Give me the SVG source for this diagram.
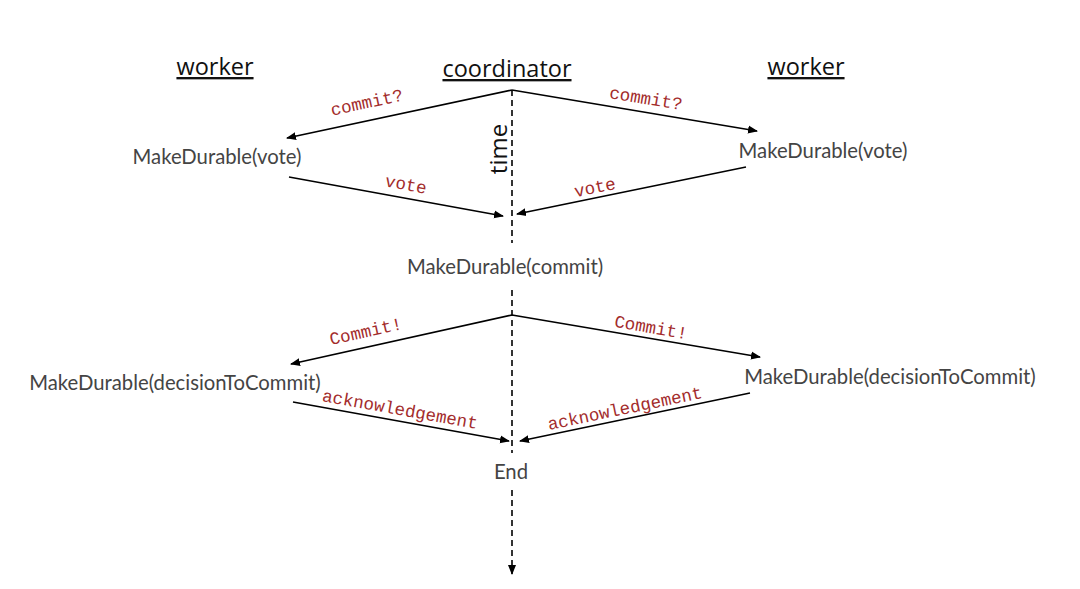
<svg xmlns="http://www.w3.org/2000/svg" width="1080" height="589" viewBox="0 0 1080 589">
<defs>
<marker id="ah" viewBox="0 0 10 10" refX="9" refY="5" markerWidth="10" markerHeight="10" markerUnits="userSpaceOnUse" orient="auto">
<path d="M0,1 L10,5 L0,9 z" fill="#000"/>
</marker>
<style>
.hdr{font-family:"Open Sans","Noto Sans",sans-serif;font-size:23.5px;fill:#111;text-decoration:underline}
.nd{font-family:Lato,"Liberation Sans",sans-serif;font-size:20.3px;fill:#444}
.lbl{font-family:"Liberation Mono",monospace;font-size:17.5px;fill:#a32c2c}
.ln{stroke:#000;stroke-width:1.6;fill:none}
.dash{stroke:#000;stroke-width:1.6;fill:none;stroke-dasharray:6,4}
</style>
</defs>
<rect width="1080" height="589" fill="#fff"/>
<g id="headers">
<text class="hdr" x="215" y="75" text-anchor="middle">worker</text>
<text class="hdr" x="507" y="77" text-anchor="middle">coordinator</text>
<text class="hdr" x="806" y="75" text-anchor="middle">worker</text>
</g>
<g id="timeline">
<path class="dash" d="M512,90 V243"/>
<path class="dash" d="M512,290 V453"/>
<path class="dash" d="M512,490 V574" marker-end="url(#ah)"/>
<text transform="translate(507,149) rotate(-90)" text-anchor="middle" style="font-family:'Open Sans','Noto Sans',sans-serif;font-size:24px;fill:#111">time</text>
</g>
<g id="connectors">
<path class="ln" d="M512,90 L287,138" marker-end="url(#ah)"/>
<path class="ln" d="M512,90 L757,131" marker-end="url(#ah)"/>
<path class="ln" d="M289,177 L503,216" marker-end="url(#ah)"/>
<path class="ln" d="M746,167 L517,214" marker-end="url(#ah)"/>
<path class="ln" d="M512,315 L291,364" marker-end="url(#ah)"/>
<path class="ln" d="M512,315 L760,357" marker-end="url(#ah)"/>
<path class="ln" d="M293,402 L509,441" marker-end="url(#ah)"/>
<path class="ln" d="M750,393 L520,441" marker-end="url(#ah)"/>
<text class="lbl" text-anchor="middle" transform="translate(368,108) rotate(-12)">commit?</text>
<text class="lbl" text-anchor="middle" transform="translate(645,104) rotate(9.5)">commit?</text>
<text class="lbl" text-anchor="middle" transform="translate(405,190) rotate(10.3)">vote</text>
<text class="lbl" text-anchor="middle" transform="translate(596,193) rotate(-11.6)">vote</text>
<text class="lbl" text-anchor="middle" transform="translate(367,337) rotate(-12.5)">Commit!</text>
<text class="lbl" text-anchor="middle" transform="translate(650,333) rotate(9.6)">Commit!</text>
<text class="lbl" text-anchor="middle" transform="translate(399,415) rotate(10.2)">acknowledgement</text>
<text class="lbl" text-anchor="middle" transform="translate(626,414) rotate(-11.8)">acknowledgement</text>
</g>
<g id="n-left-vote"><text class="nd" x="217" y="164" text-anchor="middle">MakeDurable(vote)</text></g>
<g id="n-right-vote"><text class="nd" x="823" y="158" text-anchor="middle">MakeDurable(vote)</text></g>
<g id="n-commit"><text class="nd" x="505" y="274" text-anchor="middle">MakeDurable(commit)</text></g>
<g id="n-left-decision"><text class="nd" x="175" y="390" text-anchor="middle">MakeDurable(decisionToCommit)</text></g>
<g id="n-right-decision"><text class="nd" x="890" y="384" text-anchor="middle">MakeDurable(decisionToCommit)</text></g>
<g id="n-end"><text class="nd" x="511" y="479" text-anchor="middle">End</text></g>
</svg>
